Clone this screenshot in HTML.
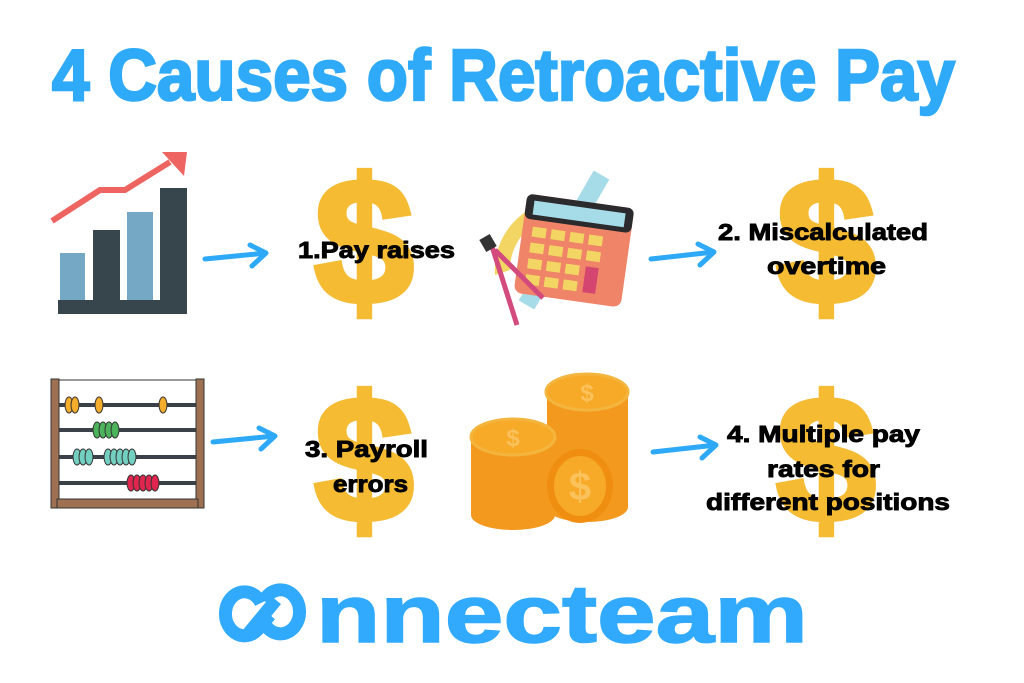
<!DOCTYPE html>
<html><head><meta charset="utf-8"><style>html,body{margin:0;padding:0;background:#fff}svg{display:block}</style></head>
<body>
<svg width="1024" height="683" viewBox="0 0 1024 683" xmlns="http://www.w3.org/2000/svg" font-family="'Liberation Sans', sans-serif">
<rect width="1024" height="683" fill="#fff"/>
<text x="52" y="100" font-size="72" font-weight="bold" fill="#2eaaf8" stroke="#2eaaf8" stroke-width="2.5" textLength="903" lengthAdjust="spacingAndGlyphs">4 Causes of Retroactive Pay</text>

<!-- dollar signs -->
<g font-size="178" font-weight="bold" fill="#f4bb33" stroke="#f4bb33" stroke-width="6" text-anchor="middle">
<text x="364" y="303">$</text>
<text x="826" y="303">$</text>
<text x="364" y="521">$</text>
<text x="826" y="521">$</text>
</g>

<!-- chart -->
<g>
<polyline points="52,221 100,190 125,190 170,162" fill="none" stroke="#ee6461" stroke-width="6"/>
<polygon points="162,152 187,152 184,176" fill="#ee6461"/>
<rect x="60" y="253" width="25" height="48" fill="#74a8c5"/>
<rect x="93" y="230" width="27" height="71" fill="#36464c"/>
<rect x="127" y="212" width="26" height="89" fill="#74a8c5"/>
<rect x="160" y="188" width="27" height="113" fill="#36464c"/>
<rect x="58" y="300" width="129" height="14" fill="#36464c"/>
</g>

<!-- tools -->
<g>
<rect x="555" y="165" width="18" height="150" fill="#a6dbe8" transform="rotate(30 564 240)"/>
<path d="M495,275 A70,70 0 0 1 560,200 L560,215 A55,55 0 0 0 510,270 Z" fill="#f3d564"/>
<g transform="rotate(8 570 250)">
<rect x="520" y="200" width="108" height="100" rx="8" fill="#f08468"/>
<rect x="520" y="200" width="108" height="25" rx="6" fill="#2b2a2c"/>
<rect x="528" y="206" width="92" height="14" fill="#a6dbe8"/>
<g fill="#f3d564">
<rect x="530" y="232" width="14" height="10"/><rect x="549" y="232" width="14" height="10"/><rect x="568" y="232" width="14" height="10"/><rect x="587" y="232" width="14" height="10"/>
<rect x="530" y="248" width="14" height="10"/><rect x="549" y="248" width="14" height="10"/><rect x="568" y="248" width="14" height="10"/><rect x="587" y="248" width="14" height="10"/>
<rect x="530" y="264" width="14" height="10"/><rect x="549" y="264" width="14" height="10"/><rect x="568" y="264" width="14" height="10"/>
<rect x="530" y="280" width="14" height="10"/><rect x="549" y="280" width="14" height="10"/><rect x="568" y="280" width="14" height="10"/>
</g>
<rect x="588" y="264" width="13" height="26" fill="#d4466f"/>
</g>
<line x1="490" y1="240" x2="517" y2="325" stroke="#d34a7c" stroke-width="5"/>
<line x1="495" y1="250" x2="543" y2="298" stroke="#d34a7c" stroke-width="5"/>
<rect x="482" y="236" width="12" height="14" fill="#333" transform="rotate(-30 488 243)"/>
</g>

<!-- abacus -->
<g>
<rect x="52" y="380" width="152" height="127" fill="none" stroke="#333" stroke-width="1"/>
<g stroke="#3b4148" stroke-width="4">
<line x1="58" y1="405" x2="198" y2="405"/><line x1="58" y1="430" x2="198" y2="430"/>
<line x1="58" y1="457" x2="198" y2="457"/><line x1="58" y1="483" x2="198" y2="483"/>
</g>
<rect x="51" y="379" width="8" height="129" fill="#9d7152" stroke="#333"/>
<rect x="196" y="379" width="8" height="129" fill="#9d7152" stroke="#333"/>
<rect x="57" y="499" width="141" height="9" fill="#9d7152" stroke="#333"/>
<g fill="#f5ad2b" stroke="#333" stroke-width="1">
<ellipse cx="69" cy="405" rx="4" ry="8"/><ellipse cx="75" cy="405" rx="4" ry="8"/><ellipse cx="99" cy="405" rx="4" ry="8"/><ellipse cx="163" cy="405" rx="4" ry="8"/>
</g>
<g fill="#4bb35a" stroke="#333" stroke-width="1">
<ellipse cx="97" cy="430" rx="4" ry="8"/><ellipse cx="103" cy="430" rx="4" ry="8"/><ellipse cx="109" cy="430" rx="4" ry="8"/><ellipse cx="115" cy="430" rx="4" ry="8"/>
</g>
<g fill="#73cfc0" stroke="#333" stroke-width="1">
<ellipse cx="77" cy="457" rx="4" ry="8"/><ellipse cx="83" cy="457" rx="4" ry="8"/><ellipse cx="89" cy="457" rx="4" ry="8"/>
<ellipse cx="108" cy="457" rx="4" ry="8"/><ellipse cx="114" cy="457" rx="4" ry="8"/><ellipse cx="120" cy="457" rx="4" ry="8"/><ellipse cx="126" cy="457" rx="4" ry="8"/><ellipse cx="132" cy="457" rx="4" ry="8"/>
</g>
<g fill="#e0264f" stroke="#333" stroke-width="1">
<ellipse cx="131" cy="483" rx="4" ry="8"/><ellipse cx="137" cy="483" rx="4" ry="8"/><ellipse cx="143" cy="483" rx="4" ry="8"/><ellipse cx="149" cy="483" rx="4" ry="8"/><ellipse cx="155" cy="483" rx="4" ry="8"/>
</g>
</g>

<!-- coins -->
<g>
<rect x="547" y="392" width="81" height="115" fill="#f39a1e"/>
<ellipse cx="587" cy="507" rx="41" ry="15" fill="#f39a1e"/>
<ellipse cx="587" cy="392" rx="41" ry="18" fill="#f7a928" stroke="#f4b53e" stroke-width="3"/>
<text x="587" y="401" font-size="24" font-weight="bold" fill="#fbc15a" text-anchor="middle">$</text>
<rect x="471" y="437" width="85" height="78" fill="#f39a1e"/>
<ellipse cx="513" cy="515" rx="42" ry="15" fill="#f39a1e"/>
<ellipse cx="513" cy="437" rx="42" ry="18" fill="#f7a928" stroke="#f4b53e" stroke-width="3"/>
<text x="513" y="446" font-size="24" font-weight="bold" fill="#fbc15a" text-anchor="middle">$</text>
<ellipse cx="580" cy="486" rx="33" ry="37" fill="#f08e12"/>
<ellipse cx="580" cy="486" rx="26" ry="30" fill="#f7a928"/>
<text x="580" y="500" font-size="40" font-weight="bold" fill="#fbc15a" text-anchor="middle">$</text>
</g>

<!-- arrows -->
<g fill="none" stroke="#2ea9f7" stroke-width="5" stroke-linecap="round" stroke-linejoin="round">
<path d="M205,259 L266,253 M250,245 L266,253 L252,266"/>
<path d="M651,259 L714,252 M698,244 L714,252 L700,265"/>
<path d="M213,442 L275,436 M259,428 L275,436 L261,449"/>
<path d="M653,452 L716,445 M700,437 L716,445 L702,458"/>
</g>

<!-- labels -->
<g font-size="23" font-weight="bold" fill="#000" stroke="#000" stroke-width="0.9" lengthAdjust="spacingAndGlyphs">
<text x="298" y="258" textLength="157" lengthAdjust="spacingAndGlyphs">1.Pay raises</text>
<text x="718" y="240" textLength="210" lengthAdjust="spacingAndGlyphs">2. Miscalculated</text>
<text x="767" y="274" textLength="119" lengthAdjust="spacingAndGlyphs">overtime</text>
<text x="305" y="457" textLength="123" lengthAdjust="spacingAndGlyphs">3. Payroll</text>
<text x="333" y="492" textLength="75" lengthAdjust="spacingAndGlyphs">errors</text>
<text x="727" y="442" textLength="193" lengthAdjust="spacingAndGlyphs">4. Multiple pay</text>
<text x="767" y="477" textLength="113" lengthAdjust="spacingAndGlyphs">rates for</text>
<text x="706" y="510" textLength="244" lengthAdjust="spacingAndGlyphs">different positions</text>
</g>

<!-- logo -->
<g fill="none" stroke="#31aafe" stroke-width="13">
<path d="M261,603 A19,22 0 1 0 259,628 L270,615"/>
<path d="M264,601 A19,22 0 1 1 266,626"/>
<line x1="248" y1="634" x2="276" y2="600"/>
</g>
<text x="316" y="642" font-size="82" font-weight="bold" fill="#31aafe" stroke="#31aafe" stroke-width="1.5" textLength="492" lengthAdjust="spacingAndGlyphs">nnecteam</text>
</svg>
</body></html>
